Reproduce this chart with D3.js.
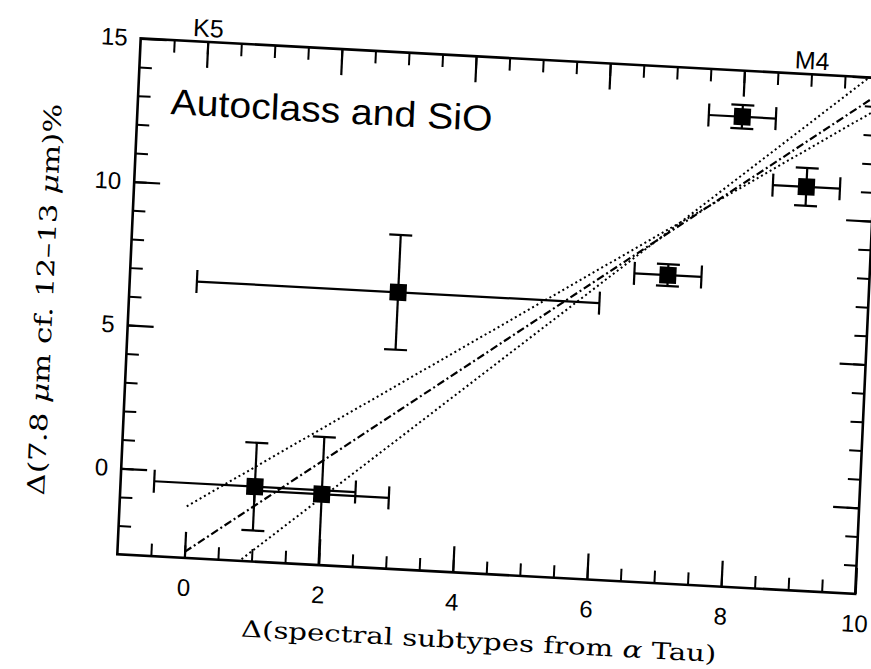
<!DOCTYPE html>
<html><head><meta charset="utf-8">
<script src="https://cdn.jsdelivr.net/npm/d3@7"></script>
<style>body{margin:0;background:#fff}</style>
</head><body>
<svg id="chart" width="871" height="669"></svg>
<script>
// ---- data ----
const xValues   = [1, 2, 3, 7, 8, 9];
const yValues   = [-0.39, -0.53, 6.64, 7.74, 13.39, 11.07];
const xErrors   = [1.5, 1.0, 3.0, 0.5, 0.5, 0.5];
const yErrLow   = [1.53, 2.6, 2.0, 0.38, 0.41, 0.66];
const yErrHigh  = [1.53, 2.0, 2.0, 0.38, 0.41, 0.66];
const fitX      = [0, 10];
const fitCentre = [-2.79, 14.41];
const fitUpper  = [-1.2, 13.9];
const fitLower  = [-4.63, 15.27];
const xTickLabels = [0, 2, 4, 6, 8, 10];
const xMinorTicks = d3.range(-0.5, 10, 0.5);
const yTickLabels = [0, 5, 10, 15];
const yMinorTicks = d3.range(-2, 15, 1);
const xDomain = [-1, 10];
const yDomain = [-3, 15];
const spectralTypes = ["K5", "M4"];
const spectralPositions = [0, 9];

// ---- layout ----
const W = 739, H = 516.5;
const svg = d3.select("#chart");
const g = svg.append("g")
  .attr("transform", "matrix(0.9985,0.0535,-0.0453,0.999,140.7,38.3)");

const x = d3.scaleLinear().domain(xDomain).range([0, W]);
const y = d3.scaleLinear().domain(yDomain).range([H, 0]);

g.append("clipPath").attr("id", "plotClip")
  .append("rect").attr("x", 0).attr("y", 0).attr("width", W).attr("height", H);

const sans = "'Liberation Sans', Arial, Helvetica, sans-serif";
const serif = "'DejaVu Serif', 'Liberation Serif', serif";

function styleAxis(sel, width) {
  sel.select(".domain").remove();
  sel.selectAll(".tick line").attr("stroke", "#000").attr("stroke-width", width);
  sel.selectAll("text").attr("font-family", sans).attr("font-size", 24).attr("fill", "#000");
}

// minor ticks
g.append("g").attr("transform", `translate(0,${H})`)
  .call(d3.axisBottom(x).tickValues(xMinorTicks).tickSize(-12.5).tickFormat(""))
  .call(s => styleAxis(s, 2));
g.append("g")
  .call(d3.axisTop(x).tickValues(xMinorTicks).tickSize(-12.5).tickFormat(""))
  .call(s => styleAxis(s, 2));
g.append("g")
  .call(d3.axisLeft(y).tickValues(yMinorTicks).tickSize(-12.5).tickFormat(""))
  .call(s => styleAxis(s, 2));
g.append("g").attr("transform", `translate(${W},0)`)
  .call(d3.axisRight(y).tickValues(yMinorTicks).tickSize(-12.5).tickFormat(""))
  .call(s => styleAxis(s, 2));

// major ticks
g.append("g").attr("transform", `translate(0,${H})`)
  .call(d3.axisBottom(x).tickValues(xTickLabels).tickSize(-26).tickPadding(21).tickFormat(d3.format("d")))
  .call(s => styleAxis(s, 2.2));
g.append("g")
  .call(d3.axisTop(x).tickValues(xTickLabels).tickSize(-26).tickFormat(""))
  .call(s => styleAxis(s, 2.2));
g.append("g")
  .call(d3.axisLeft(y).tickValues(yTickLabels).tickSize(-26).tickPadding(13).tickFormat(d3.format("d")))
  .call(s => styleAxis(s, 2.2));
g.append("g").attr("transform", `translate(${W},0)`)
  .call(d3.axisRight(y).tickValues(yTickLabels).tickSize(-26).tickFormat(""))
  .call(s => styleAxis(s, 2.2));

// frame
g.append("rect").attr("x", 0).attr("y", 0).attr("width", W).attr("height", H)
  .attr("fill", "none").attr("stroke", "#000").attr("stroke-width", 2.6);

// fit lines
const plot = g.append("g").attr("clip-path", "url(#plotClip)");
const line = d3.line().x(d => x(d[0])).y(d => y(d[1]));
const fits = [
  { vals: fitUpper, dash: "2,3", w: 2 },
  { vals: fitLower, dash: "2,3", w: 2 },
  { vals: fitCentre, dash: "8,3,2,3", w: 2.2 }
];
fits.forEach(f => {
  plot.append("path")
    .attr("d", line(fitX.map((xv, i) => [xv, f.vals[i]])))
    .attr("fill", "none").attr("stroke", "#000")
    .attr("stroke-width", f.w).attr("stroke-dasharray", f.dash);
});

// error bars and points
const cap = 11.5, sq = 17;
xValues.forEach((xv, i) => {
  const yv = yValues[i];
  const eg = plot.append("g").attr("stroke", "#000").attr("stroke-width", 2.2);
  const x0 = x(xv - xErrors[i]), x1 = x(xv + xErrors[i]);
  const y0 = y(yv - yErrLow[i]), y1 = y(yv + yErrHigh[i]);
  eg.append("line").attr("x1", x0).attr("x2", x1).attr("y1", y(yv)).attr("y2", y(yv));
  eg.append("line").attr("x1", x0).attr("x2", x0).attr("y1", y(yv) - cap).attr("y2", y(yv) + cap);
  eg.append("line").attr("x1", x1).attr("x2", x1).attr("y1", y(yv) - cap).attr("y2", y(yv) + cap);
  eg.append("line").attr("x1", x(xv)).attr("x2", x(xv)).attr("y1", y0).attr("y2", y1);
  eg.append("line").attr("x1", x(xv) - cap).attr("x2", x(xv) + cap).attr("y1", y0).attr("y2", y0);
  eg.append("line").attr("x1", x(xv) - cap).attr("x2", x(xv) + cap).attr("y1", y1).attr("y2", y1);
  plot.append("rect").attr("x", x(xv) - sq / 2).attr("y", y(yv) - sq / 2)
    .attr("width", sq).attr("height", sq).attr("fill", "#000");
});

// spectral type labels on top axis
spectralTypes.forEach((t, i) => {
  g.append("text").attr("x", x(spectralPositions[i])).attr("y", -5)
    .attr("text-anchor", "middle").attr("font-family", sans).attr("font-size", 25)
    .text(t);
});

// panel label
g.append("text").attr("x", 33).attr("y", 74)
  .attr("font-family", sans).attr("font-size", 36)
  .attr("textLength", 322).attr("lengthAdjust", "spacingAndGlyphs")
  .text("Autoclass and SiO");

// x title
const xt = g.append("text").attr("x", 365).attr("y", 592)
  .attr("text-anchor", "middle").attr("font-family", serif).attr("font-size", 23)
  .attr("textLength", 476).attr("lengthAdjust", "spacingAndGlyphs");
xt.append("tspan").text("Δ(spectral subtypes from ");
xt.append("tspan").attr("font-style", "italic").text("α");
xt.append("tspan").text(" Tau)");

// y title
const yt = g.append("text").attr("transform", "translate(-76,266) rotate(-90)")
  .attr("text-anchor", "middle").attr("font-family", serif).attr("font-size", 24)
  .attr("textLength", 392).attr("lengthAdjust", "spacingAndGlyphs");
yt.append("tspan").text("Δ(7.8 ");
yt.append("tspan").attr("font-style", "italic").text("μ");
yt.append("tspan").text("m cf. 12–13 ");
yt.append("tspan").attr("font-style", "italic").text("μ");
yt.append("tspan").text("m)%");
</script>
</body></html>
